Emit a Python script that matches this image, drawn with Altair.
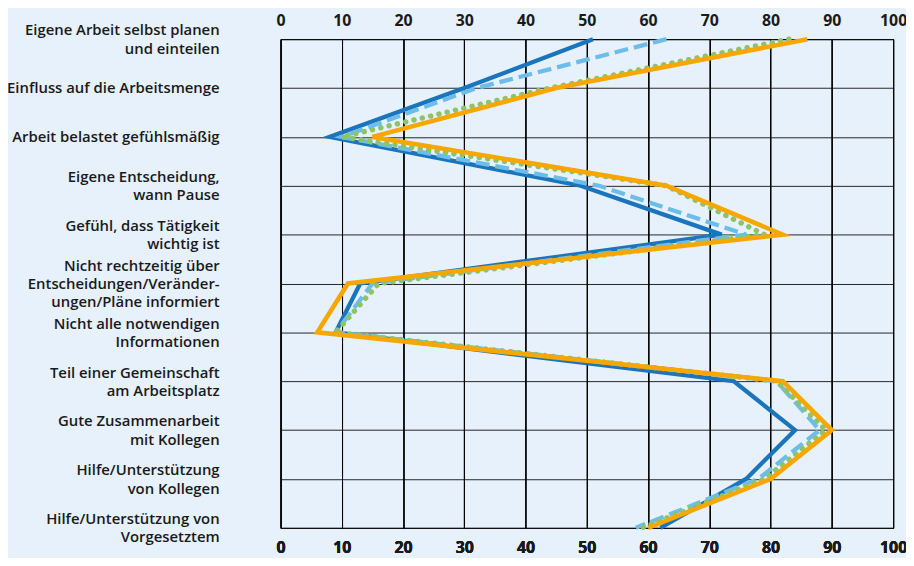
import altair as alt
import pandas as pd

categories = [
    "Eigene Arbeit selbst planen\nund einteilen",
    "Einfluss auf die Arbeitsmenge",
    "Arbeit belastet gefühlsmäßig",
    "Eigene Entscheidung,\nwann Pause",
    "Gefühl, dass Tätigkeit\nwichtig  ist",
    "Nicht rechtzeitig über\nEntscheidungen/Veränder-\nungen/Pläne informiert",
    "Nicht alle notwendigen\nInformationen",
    "Teil einer Gemeinschaft\nam Arbeitsplatz",
    "Gute Zusammenarbeit\nmit Kollegen",
    "Hilfe/Unterstützung\nvon Kollegen",
    "Hilfe/Unterstützung von\nVorgesetztem",
]

series_names = ["Reihe 1", "Reihe 2", "Reihe 3", "Reihe 4"]
dark_blue = [51, 30, 8, 49, 72, 13, 9, 74, 84, 76, 62]
light_blue = [63, 32, 10, 52, 76, 15, 9, 81, 88, 78, 58]
green = [83, 44, 10, 63, 79, 16, 9, 81, 89, 79, 59]
orange = [86, 45, 15, 63, 82, 11, 6, 82, 90, 80, 60]
x_ticks = [0, 10, 20, 30, 40, 50, 60, 70, 80, 90, 100]

colors = ["#1b75bc", "#6dbdeb", "#8dc46a", "#f8a600"]
bg = "#e7f1fb"
LINE_H = 18.5

rows = []
for name, vals in zip(series_names, [dark_blue, light_blue, green, orange]):
    for i, (c, v) in enumerate(zip(categories, vals)):
        rows.append({"serie": name, "kategorie": c, "idx": i, "wert": v})
df = pd.DataFrame(rows)

x_scale = alt.Scale(domain=[0, 100], nice=False, zero=False)
label_style = dict(labelFont="Open Sans", labelColor="#1a1a1a")

x_enc = alt.X(
    "wert:Q",
    scale=x_scale,
    axis=alt.Axis(
        values=x_ticks, orient="bottom", title=None, grid=True, gridColor="#000000",
        gridOpacity=0.85, gridWidth=1, domain=False, ticks=False, labelFlush=False,
        labelFontSize=16, labelFontWeight="bold", labelPadding=12, **label_style,
    ),
)
y_enc = alt.Y(
    "kategorie:N",
    sort=categories,
    scale=alt.Scale(type="point", padding=0),
    axis=alt.Axis(
        title=None, grid=True, gridColor="#000000", gridOpacity=0.85, gridWidth=1,
        domain=False, ticks=False, labelFontSize=15, labelFontWeight=600,
        labelPadding=62, labelLimit=300,
        labelExpr="split(datum.label, '\\n')", labelLineHeight=LINE_H,
        labelOffset={
            "condition": {
                "test": "datum.value != null",
                "expr": f"-(length(split(datum.label, '\\n')) - 1) * {LINE_H / 2}",
            },
            "value": 0,
        },
        **label_style,
    ),
)

styles = [
    dict(strokeWidth=4.3),
    dict(strokeWidth=4.3, strokeDash=[14, 6]),
    dict(strokeWidth=5.5, strokeDash=[0.1, 8.5], strokeCap="round"),
    dict(strokeWidth=4.6),
]

layers = []
for name, col, st in zip(series_names, colors, styles):
    layers.append(
        alt.Chart(df[df.serie == name])
        .mark_line(color=col, **st)
        .encode(x=x_enc, y=y_enc, order=alt.Order("idx:Q"))
    )

top = (
    alt.Chart(df[df.serie == series_names[0]])
    .mark_point(opacity=0)
    .encode(
        x=alt.X(
            "wert:Q",
            scale=x_scale,
            axis=alt.Axis(
                values=x_ticks, orient="top", title=None, grid=False, domain=False,
                ticks=False, labelFlush=False, labelFontSize=16, labelFontWeight="bold",
                labelPadding=11, **label_style,
            ),
        ),
        y=y_enc,
    )
)

chart = (
    alt.layer(top, *layers)
    .properties(
        width=618, height=493, background=bg,
        autosize=alt.AutoSizeParams(type="none"),
        padding={"left": 275, "top": 29, "right": 13, "bottom": 28},
    )
    .configure_view(stroke="#000000", strokeWidth=1, fill=bg)
)

chart.save("out.html", embed_options={"renderer": "svg", "actions": False})
